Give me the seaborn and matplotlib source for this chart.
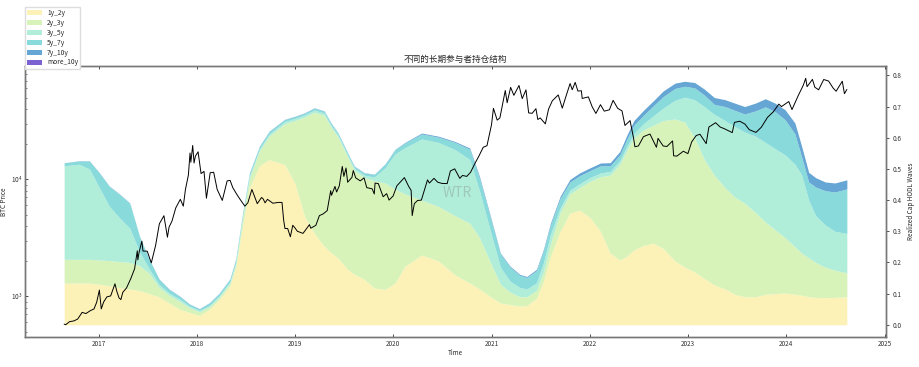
import matplotlib
matplotlib.use("Agg")
import numpy as np
import pandas as pd
import seaborn as sns
import matplotlib.pyplot as plt
import matplotlib.ticker as mticker
import matplotlib.dates as mdates

# ---------------- data ----------------
price_dates = [
    "2016-08-26", "2016-09-01", "2016-09-15", "2016-10-01", "2016-10-15", "2016-11-01", "2016-11-15",
    "2016-12-01", "2016-12-15", "2016-12-25", "2017-01-04", "2017-01-11", "2017-01-20", "2017-02-01",
    "2017-02-15", "2017-03-03", "2017-03-10", "2017-03-18", "2017-03-25", "2017-04-01", "2017-04-15",
    "2017-05-01", "2017-05-15", "2017-05-25", "2017-05-27", "2017-06-01", "2017-06-11", "2017-06-15",
    "2017-07-01", "2017-07-16", "2017-08-01", "2017-08-15", "2017-09-01", "2017-09-14", "2017-09-20",
    "2017-10-01", "2017-10-15", "2017-11-01", "2017-11-12", "2017-11-20", "2017-12-01", "2017-12-07",
    "2017-12-10", "2017-12-17", "2017-12-22", "2017-12-27", "2018-01-06", "2018-01-17", "2018-01-28",
    "2018-02-06", "2018-02-20", "2018-03-05", "2018-03-18", "2018-04-06", "2018-04-24", "2018-05-05",
    "2018-05-15", "2018-05-29", "2018-06-10", "2018-06-29", "2018-07-10", "2018-07-25", "2018-08-14",
    "2018-08-30", "2018-09-05", "2018-09-12", "2018-09-21", "2018-10-11", "2018-10-31", "2018-11-14",
    "2018-11-20", "2018-11-25", "2018-12-05", "2018-12-15", "2018-12-24", "2019-01-01", "2019-01-10",
    "2019-01-31", "2019-02-08", "2019-02-24", "2019-03-01", "2019-03-20", "2019-04-02", "2019-04-15",
    "2019-05-01", "2019-05-14", "2019-05-17", "2019-05-30", "2019-06-05", "2019-06-15", "2019-06-26",
    "2019-07-02", "2019-07-10", "2019-07-16", "2019-08-01", "2019-08-06", "2019-08-15", "2019-09-01",
    "2019-09-15", "2019-09-25", "2019-10-15", "2019-10-23", "2019-10-26", "2019-11-07", "2019-11-25",
    "2019-12-08", "2019-12-17", "2020-01-01", "2020-01-15", "2020-02-12", "2020-02-28", "2020-03-08",
    "2020-03-12", "2020-03-20", "2020-04-01", "2020-04-15", "2020-04-30", "2020-05-08", "2020-05-15",
    "2020-06-01", "2020-06-15", "2020-07-01", "2020-07-20", "2020-08-01", "2020-08-17", "2020-09-05",
    "2020-09-15", "2020-10-01", "2020-10-15", "2020-11-01", "2020-11-15", "2020-12-01", "2020-12-15",
    "2021-01-01", "2021-01-08", "2021-01-22", "2021-02-01", "2021-02-15", "2021-02-21", "2021-02-28",
    "2021-03-13", "2021-03-25", "2021-04-13", "2021-04-25", "2021-05-09", "2021-05-19", "2021-06-01",
    "2021-06-15", "2021-06-22", "2021-07-01", "2021-07-20", "2021-08-01", "2021-08-15", "2021-09-06",
    "2021-09-21", "2021-10-01", "2021-10-20", "2021-10-28", "2021-11-08", "2021-11-18", "2021-12-01",
    "2021-12-04", "2021-12-27", "2022-01-10", "2022-01-24", "2022-02-10", "2022-02-24", "2022-03-15",
    "2022-03-29", "2022-04-15", "2022-05-01", "2022-05-12", "2022-05-31", "2022-06-13", "2022-06-18",
    "2022-07-01", "2022-07-20", "2022-08-13", "2022-09-06", "2022-09-12", "2022-10-01", "2022-10-15",
    "2022-11-05", "2022-11-09", "2022-11-21", "2022-12-15", "2023-01-01", "2023-01-15", "2023-02-01",
    "2023-02-15", "2023-03-10", "2023-03-20", "2023-04-14", "2023-05-01", "2023-05-15", "2023-06-15",
    "2023-06-23", "2023-07-13", "2023-08-01", "2023-08-17", "2023-09-11", "2023-10-01", "2023-10-24",
    "2023-11-15", "2023-12-05", "2023-12-15", "2024-01-11", "2024-01-23", "2024-02-15", "2024-03-05",
    "2024-03-14", "2024-03-19", "2024-04-08", "2024-04-17", "2024-05-01", "2024-05-20", "2024-06-07",
    "2024-06-24", "2024-07-05", "2024-07-28", "2024-08-05", "2024-08-14",
]
price_values = [
    578, 572, 607, 616, 638, 729, 712,
    753, 780, 890, 1130, 780, 895, 989,
    1008, 1280, 1100, 970, 937, 1080, 1180,
    1420, 1720, 2450, 2050, 2400, 2960, 2440,
    2430, 1930, 2720, 4170, 4890, 3200, 3900,
    4400, 5700, 6750, 5900, 8200, 10900, 16800,
    14000, 19500, 13800, 15800, 17200, 11200, 11700,
    6900, 11400, 11500, 8200, 6600, 9700, 9800,
    8500, 7500, 6800, 5900, 6300, 8200, 6200,
    7000, 6800, 6300, 6750, 6250, 6350, 6350,
    4500, 3800, 3800, 3230, 4050, 3850, 3600,
    3450, 3650, 4100, 3820, 4050, 4900, 5050,
    5400, 8000, 7300, 8700, 7800, 8800, 12900,
    10600, 12500, 9450, 10400, 11900, 10300, 9700,
    10300, 8500, 8300, 7500, 9300, 9200, 7100,
    7550, 6650, 7200, 8800, 10350, 8700, 8050,
    4900, 6200, 6600, 6640, 8650, 9900, 9300,
    10200, 9450, 9230, 9200, 11800, 12300, 10200,
    10800, 10600, 11500, 13800, 15800, 18800, 19400,
    29400, 40500, 32100, 33500, 48600, 57500, 45200,
    61200, 52300, 63500, 49000, 58200, 37000, 36700,
    40200, 32500, 33500, 29800, 39900, 47000, 52700,
    40600, 48200, 66000, 58400, 67500, 56900, 57200,
    49200, 50700, 41800, 36600, 43500, 38300, 39300,
    47400, 40500, 38500, 28900, 31800, 22500, 19000,
    19300, 23200, 24400, 18800, 22400, 19300, 19100,
    21300, 15900, 15800, 17400, 16600, 20900, 23700,
    24300, 20200, 28000, 30500, 28000, 27200, 25100,
    30700, 31400, 29700, 26600, 25200, 27900, 33900,
    37900, 44000, 41900, 46300, 39500, 51900, 63800,
    73100, 62000, 71600, 61300, 58300, 71400, 69300,
    60300, 56700, 69000, 54000, 58700,
]

wave_dates = [
    "2016-08-26", "2016-10-20", "2016-11-28", "2017-01-04", "2017-02-10", "2017-03-18", "2017-04-27",
    "2017-06-02", "2017-07-08", "2017-08-14", "2017-09-20", "2017-10-30", "2017-12-05", "2018-01-11",
    "2018-02-17", "2018-03-25", "2018-05-04", "2018-05-26", "2018-06-21", "2018-07-16", "2018-08-22",
    "2018-09-27", "2018-11-24", "2019-01-01", "2019-02-06", "2019-03-14", "2019-04-20", "2019-05-15",
    "2019-06-10", "2019-07-16", "2019-08-10", "2019-09-16", "2019-10-23", "2019-12-02", "2020-01-08",
    "2020-02-14", "2020-04-16", "2020-06-17", "2020-08-18", "2020-10-12", "2020-11-17", "2020-12-28",
    "2021-02-03", "2021-03-11", "2021-04-16", "2021-05-12", "2021-06-17", "2021-07-13", "2021-08-08",
    "2021-09-13", "2021-10-19", "2021-11-24", "2022-01-01", "2022-02-10", "2022-03-18", "2022-04-23",
    "2022-05-19", "2022-06-14", "2022-07-20", "2022-08-25", "2022-10-01", "2022-11-14", "2022-12-20",
    "2023-01-26", "2023-03-03", "2023-04-09", "2023-05-19", "2023-06-24", "2023-07-31", "2023-09-09",
    "2023-10-16", "2023-11-21", "2023-12-28", "2024-02-03", "2024-02-28", "2024-03-25", "2024-04-20",
    "2024-05-26", "2024-07-01", "2024-08-14",
]
w_1y_2y = [
    .134, .134, .134, .130, .125, .120, .115, .110, .100, .090, .070, .050, .040, .030,
    .050, .080, .125, .185, .320, .440, .510, .530, .514, .454, .348, .294, .252, .232,
    .214, .178, .162, .146, .118, .114, .134, .188, .224, .205, .160, .134, .115, .090,
    .070, .065, .060, .062, .085, .140, .220, .300, .358, .368, .345, .300, .230, .208,
    .220, .240, .255, .262, .245, .205, .185, .170, .148, .128, .115, .098, .090, .090,
    .098, .100, .102, .098, .095, .090, .088, .087, .088, .090,
]
w_2y_3y = [
    .076, .076, .076, .078, .081, .083, .085, .080, .065, .030, .025, .025, .015, .012,
    .008, .008, .008, .010, .025, .030, .048, .075, .131, .201, .318, .388, .420, .402,
    .388, .360, .333, .326, .344, .341, .301, .232, .176, .175, .190, .192, .165, .110,
    .060, .040, .030, .028, .025, .030, .040, .060, .062, .072, .115, .175, .250, .307,
    .340, .360, .370, .378, .410, .455, .465, .430, .382, .352, .325, .312, .300, .270,
    .232, .205, .178, .152, .135, .125, .112, .098, .087, .077,
]
w_3y_5y = [
    .300, .305, .290, .232, .174, .142, .110, .045, .015, .010, .007, .007, .005, .004,
    .004, .005, .005, .005, .005, .008, .006, .007, .007, .007, .007, .007, .007, .007,
    .007, .007, .007, .008, .012, .048, .113, .148, .196, .205, .212, .204, .150, .100,
    .055, .035, .030, .025, .025, .030, .030, .015, .012, .012, .012, .012, .012, .012,
    .013, .014, .020, .030, .040, .060, .080, .122, .170, .195, .215, .226, .228, .245,
    .255, .260, .265, .265, .250, .185, .150, .135, .125, .126,
]
w_5y_7y = [
    .010, .010, .025, .047, .064, .075, .080, .049, .030, .016, .012, .009, .006, .005,
    .008, .007, .008, .010, .010, .009, .008, .008, .006, .006, .006, .006, .006, .006,
    .006, .006, .006, .007, .008, .012, .014, .015, .016, .017, .023, .033, .040, .044,
    .042, .045, .039, .037, .039, .037, .030, .030, .026, .026, .022, .023, .018, .018,
    .022, .026, .027, .032, .037, .038, .035, .038, .037, .032, .045, .052, .058, .081,
    .114, .119, .113, .097, .058, .058, .092, .110, .126, .143,
]
w_7y_10y = [
    .000, .001, .001, .001, .001, .001, .001, .001, .001, .001, .001, .001, .001, .001,
    .001, .001, .001, .001, .001, .001, .001, .001, .001, .001, .001, .001, .001, .001,
    .001, .001, .001, .001, .001, .001, .001, .002, .003, .003, .003, .004, .006, .004,
    .003, .003, .003, .003, .004, .005, .006, .007, .008, .009, .009, .009, .010, .011,
    .013, .015, .016, .016, .018, .017, .016, .017, .019, .022, .022, .023, .024, .025,
    .026, .027, .032, .035, .034, .031, .030, .028, .029, .029,
]
w_more_10y = [0.0] * len(wave_dates)

band_labels = ["1y_2y", "2y_3y", "3y_5y", "5y_7y", "7y_10y", "more_10y"]
band_colors = ["#fcf2b8", "#d8f3ba", "#b0eed9", "#89dadb", "#66a6d4", "#7b62d0"]

title_text = "不同的长期参与者持仓结构"
x_label = "Time"
left_label = "BTC Price"
right_label = "Realized Cap HODL Waves"

# ---------------- style ----------------
sns.set_style("white")
plt.rcParams["font.family"] = ["Noto Sans CJK SC", "DejaVu Sans"]
plt.rcParams["axes.unicode_minus"] = False

W, H = 919, 367
fig = plt.figure(figsize=(W / 100, H / 100), dpi=100)
ax = fig.add_axes([25 / W, 30 / H, 861 / W, 271 / H])
ax2 = ax.twinx()

price_df = pd.DataFrame({"date": pd.to_datetime(price_dates), "price": price_values})
wdates = pd.to_datetime(wave_dates)

# stacked HODL waves on the right axis
ax2.stackplot(wdates, w_1y_2y, w_2y_3y, w_3y_5y, w_5y_7y, w_7y_10y, w_more_10y,
              colors=band_colors, labels=band_labels, linewidth=0)
ax2.set_ylim(-0.039, 0.83)
ax2.yaxis.set_major_locator(mticker.MultipleLocator(0.1))
ax2.yaxis.set_major_formatter(mticker.FormatStrFormatter("%.1f"))

# BTC price on the left axis (drawn above the areas)
sns.lineplot(data=price_df, x="date", y="price", ax=ax, color="black", linewidth=0.7)
ax.set_yscale("log")
ax.set_zorder(ax2.get_zorder() + 1)
ax.patch.set_visible(False)

ax.xaxis.set_major_locator(mdates.YearLocator())
ax.xaxis.set_major_formatter(mdates.DateFormatter("%Y"))

fs = 4.6
ax.tick_params(axis="x", which="both", direction="in", top=True, bottom=True,
               labelsize=fs, length=2.5, width=0.6, colors="#333333", pad=2)
ax.tick_params(axis="y", which="major", direction="in", left=True, labelsize=fs,
               length=2.5, width=0.6, colors="#333333", pad=2)
ax.tick_params(axis="y", which="minor", direction="in", left=True, length=1.5, width=0.5,
               colors="#555555")
ax2.tick_params(axis="y", which="both", direction="out", right=True, labelsize=fs,
                length=2.5, width=0.6, colors="#333333", pad=2)

for a in (ax, ax2):
    for s in a.spines.values():
        s.set_color("#777777")
        s.set_linewidth(1.0)

ax.set_xlabel(x_label, fontsize=fs, labelpad=1)
ax.set_ylabel(left_label, fontsize=fs, labelpad=2)
ax2.set_ylabel(right_label, fontsize=fs, labelpad=4)
ax.set_title(title_text, fontsize=6.2, pad=3)

# watermark
ax.text(0.502, 0.53, "WTR", transform=ax.transAxes, fontsize=10, color="#8a9a92",
        alpha=0.45, ha="center", va="center")

handles, labels = ax2.get_legend_handles_labels()
leg = ax.legend(handles, labels, loc="lower left", bbox_to_anchor=(0, 1 - 2.5 / 271),
                borderaxespad=0, fontsize=4.8, labelspacing=0.28, handlelength=2.2,
                handleheight=0.8, handletextpad=0.8, borderpad=0.3, frameon=True,
                fancybox=False, edgecolor="#dddddd", framealpha=1)

fig.savefig("out.png", dpi=100)
